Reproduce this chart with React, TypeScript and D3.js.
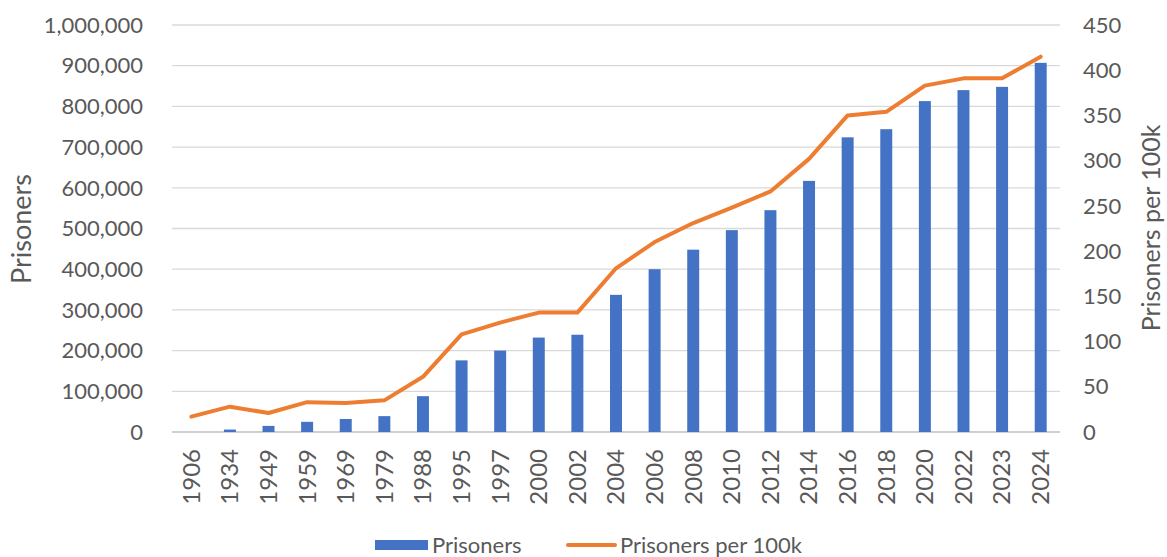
import React, { useRef, useEffect } from "react";
import * as d3 from "d3";

// ---------------------------------------------------------------------------
// DATA
// ---------------------------------------------------------------------------
const years: string[] = [
  "1906", "1934", "1949", "1959", "1969", "1979", "1988", "1995", "1997",
  "2000", "2002", "2004", "2006", "2008", "2010", "2012", "2014", "2016",
  "2018", "2020", "2022", "2023", "2024",
];

const prisoners: number[] = [
  0, 6000, 15000, 25000, 32000, 39000, 88000, 176000, 200000, 232000,
  239000, 337000, 400000, 448000, 496000, 545000, 617000, 724000, 744000,
  813000, 840000, 848000, 907000,
];

const per100k: number[] = [
  17, 28, 21, 33, 32, 35, 61, 108, 121, 132, 132, 181, 210, 231, 248, 266,
  302, 350, 354, 383, 391, 391, 415,
];

const leftTicks: number[] = [
  0, 100000, 200000, 300000, 400000, 500000, 600000, 700000, 800000, 900000,
  1000000,
];
const rightTicks: number[] = [0, 50, 100, 150, 200, 250, 300, 350, 400, 450];

const FONT = "Lato, 'Open Sans', sans-serif";
const TEXT = "#595959";
const BLUE = "#4472C4";
const ORANGE = "#ED7D31";

export default function App() {
  const svgRef = useRef<SVGSVGElement | null>(null);

  useEffect(() => {
    document.body.style.margin = "0";

    const W = 1167;
    const H = 557;
    const plot = { left: 172, right: 1060, top: 25, bottom: 432 };

    const svg = d3.select(svgRef.current);
    svg.selectAll("*").remove();
    svg.attr("width", W).attr("height", H).style("font-family", FONT);

    // scales
    const x = d3
      .scaleBand<string>()
      .domain(years)
      .range([plot.left, plot.right])
      .paddingInner(0.69)
      .paddingOuter(0.345);

    const yL = d3.scaleLinear().domain([0, 1000000]).range([plot.bottom, plot.top]);
    const yR = d3.scaleLinear().domain([0, 450]).range([plot.bottom, plot.top]);

    // gridlines
    svg
      .append("g")
      .selectAll("line")
      .data(leftTicks)
      .join("line")
      .attr("x1", plot.left)
      .attr("x2", plot.right)
      .attr("y1", (d) => yL(d))
      .attr("y2", (d) => yL(d))
      .attr("stroke", (d) => (d === 0 ? "#cfcfcf" : "#d9d9d9"))
      .attr("stroke-width", (d) => (d === 0 ? 2 : 1.3));

    // left tick labels
    const fmt = d3.format(",");
    svg
      .append("g")
      .selectAll("text")
      .data(leftTicks)
      .join("text")
      .attr("x", 143)
      .attr("y", (d) => yL(d))
      .attr("dy", "0.35em")
      .attr("text-anchor", "end")
      .attr("fill", TEXT)
      .style("font-size", "22px")
      .text((d) => fmt(d));

    // right tick labels
    svg
      .append("g")
      .selectAll("text")
      .data(rightTicks)
      .join("text")
      .attr("x", 1083)
      .attr("y", (d) => yR(d))
      .attr("dy", "0.35em")
      .attr("text-anchor", "start")
      .attr("fill", TEXT)
      .style("font-size", "22px")
      .text((d) => String(d));

    // bars
    svg
      .append("g")
      .selectAll("rect")
      .data(years)
      .join("rect")
      .attr("x", (d) => x(d) ?? 0)
      .attr("width", x.bandwidth())
      .attr("y", (_, i) => yL(prisoners[i]))
      .attr("height", (_, i) => plot.bottom - yL(prisoners[i]))
      .attr("fill", BLUE);

    // line
    const line = d3
      .line<number>()
      .x((_, i) => (x(years[i]) ?? 0) + x.bandwidth() / 2)
      .y((d) => yR(d));

    svg
      .append("path")
      .datum(per100k)
      .attr("fill", "none")
      .attr("stroke", ORANGE)
      .attr("stroke-width", 4)
      .attr("stroke-linejoin", "round")
      .attr("stroke-linecap", "round")
      .attr("d", line);

    // x labels (rotated)
    svg
      .append("g")
      .selectAll("text")
      .data(years)
      .join("text")
      .attr(
        "transform",
        (d) => `translate(${(x(d) ?? 0) + x.bandwidth() / 2},${449}) rotate(-90)`
      )
      .attr("dy", "0.35em")
      .attr("text-anchor", "end")
      .attr("fill", TEXT)
      .style("font-size", "24px")
      .text((d) => d);

    // axis titles
    svg
      .append("text")
      .attr("transform", `translate(22,229) rotate(-90)`)
      .attr("text-anchor", "middle")
      .attr("dy", "0.35em")
      .attr("fill", TEXT)
      .style("font-size", "27px")
      .text("Prisoners");

    svg
      .append("text")
      .attr("transform", `translate(1151,228) rotate(-90)`)
      .attr("text-anchor", "middle")
      .attr("dy", "0.35em")
      .attr("fill", TEXT)
      .style("font-size", "25px")
      .text("Prisoners per 100k");

    // legend
    const lg = svg.append("g");
    lg.append("rect")
      .attr("x", 375)
      .attr("y", 540)
      .attr("width", 53)
      .attr("height", 10)
      .attr("fill", BLUE);
    lg.append("text")
      .attr("x", 432)
      .attr("y", 545)
      .attr("dy", "0.35em")
      .attr("fill", TEXT)
      .style("font-size", "22px")
      .text("Prisoners");
    lg.append("line")
      .attr("x1", 568)
      .attr("x2", 615)
      .attr("y1", 545)
      .attr("y2", 545)
      .attr("stroke", ORANGE)
      .attr("stroke-width", 4)
      .attr("stroke-linecap", "round");
    lg.append("text")
      .attr("x", 620)
      .attr("y", 545)
      .attr("dy", "0.35em")
      .attr("fill", TEXT)
      .style("font-size", "22px")
      .text("Prisoners per 100k");
  }, []);

  return <svg ref={svgRef} style={{ display: "block" }} />;
}
